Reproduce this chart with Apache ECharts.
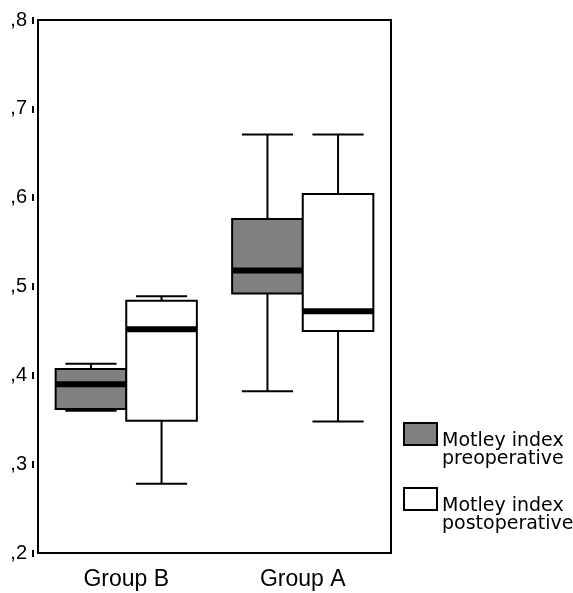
<!DOCTYPE html>
<html>
<head>
<meta charset="utf-8">
<script src="https://cdn.jsdelivr.net/npm/echarts@6/dist/echarts.min.js"></script>
<style>
  html, body { margin: 0; padding: 0; background: #fff; }
  #chart { width: 573px; height: 593px; }
</style>
</head>
<body>
<div id="chart"></div>
<script>
const categories = ['Group B', 'Group A']
const yTicks = [0.2, 0.3, 0.4, 0.5, 0.6, 0.7, 0.8]

// box statistics per group: low whisker, Q1, median, Q3, high whisker
const preLow = [0.360, 0.382]
const preQ1 = [0.362, 0.492]
const preMedian = [0.390, 0.518]
const preQ3 = [0.407, 0.576]
const preHigh = [0.413, 0.671]

const postLow = [0.278, 0.348]
const postQ1 = [0.349, 0.450]
const postMedian = [0.452, 0.472]
const postQ3 = [0.484, 0.604]
const postHigh = [0.489, 0.671]

const PRE = 'Motley index\npreoperative'
const POST = 'Motley index\npostoperative'

const chart = echarts.init(document.getElementById('chart'))

const makeData = (low, q1, med, q3, high) =>
  categories.map((c, i) => [i, low[i], q1[i], med[i], q3[i], high[i]])

const makeSeries = (name, data, side, fill) => ({
  name,
  type: 'custom',
  itemStyle: { color: fill, borderColor: '#000', borderWidth: 2 },
  encode: { x: 0, y: [1, 2, 3, 4, 5] },
  data,
  renderItem: (params, api) => {
    const i = api.value(0)
    const band = api.size([1, 0])[0]
    const cx = api.coord([i, 0])[0] + side * band * 0.2
    const half = band * 0.2
    const cap = band * 0.145
    const y = k => api.coord([i, api.value(k)])[1]
    const low = y(1), q1 = y(2), med = y(3), q3 = y(4), high = y(5)
    const line = (x1, y1, x2, y2, w) => ({
      type: 'line',
      shape: { x1, y1, x2, y2 },
      style: { stroke: '#000', lineWidth: w || 2 }
    })
    return {
      type: 'group',
      children: [
        line(cx, high, cx, q3),
        line(cx, q1, cx, low),
        line(cx - cap, high, cx + cap, high),
        line(cx - cap, low, cx + cap, low),
        {
          type: 'rect',
          shape: { x: cx - half, y: q3, width: half * 2, height: q1 - q3 },
          style: { fill, stroke: '#000', lineWidth: 2 }
        },
        line(cx - half, med, cx + half, med, 6)
      ]
    }
  }
})

// spacer line on top pushes the two text lines below the icon's centre
const legendText = {
  fontFamily: 'DejaVu Sans',
  fontSize: 19,
  lineHeight: 18,
  color: '#000',
  rich: { s: { fontSize: 10, lineHeight: 32 } }
}

const legendBase = {
  left: 403,
  padding: 0,
  icon: 'rect',
  itemWidth: 33,
  itemHeight: 22,
  itemGap: 4,
  textStyle: legendText,
  formatter: name => '{s| }\n' + name,
  selectedMode: false
}

const option = {
  animation: false,
  grid: {
    left: 38,
    top: 20,
    right: 182,
    bottom: 40,
    show: true,
    borderColor: '#000',
    borderWidth: 2,
    backgroundColor: 'transparent'
  },
  legend: [
    Object.assign({}, legendBase, {
      top: 400,
      data: [{ name: PRE, itemStyle: { color: '#808080', borderColor: '#000', borderWidth: 2 } }]
    }),
    Object.assign({}, legendBase, {
      top: 465,
      data: [{ name: POST, itemStyle: { color: '#fff', borderColor: '#000', borderWidth: 2 } }]
    })
  ],
  xAxis: {
    type: 'category',
    data: categories,
    axisLine: { show: false },
    axisTick: { show: false },
    axisLabel: {
      color: '#000',
      fontFamily: 'Liberation Sans',
      fontSize: 23,
      margin: 15
    },
    splitLine: { show: false }
  },
  yAxis: {
    type: 'value',
    min: yTicks[0],
    max: yTicks[yTicks.length - 1],
    interval: 0.1,
    offset: 4,
    axisLine: { show: false },
    axisTick: { show: true, length: 2, lineStyle: { color: '#000', width: 7 } },
    axisLabel: {
      color: '#000',
      fontFamily: 'Liberation Sans',
      fontSize: 20,
      margin: 7,
      formatter: v => ',' + Math.round(v * 10)
    },
    splitLine: { show: false }
  },
  series: [
    makeSeries(PRE, makeData(preLow, preQ1, preMedian, preQ3, preHigh), -1, '#808080'),
    makeSeries(POST, makeData(postLow, postQ1, postMedian, postQ3, postHigh), 1, '#ffffff')
  ]
}

chart.setOption(option)
</script>
</body>
</html>
